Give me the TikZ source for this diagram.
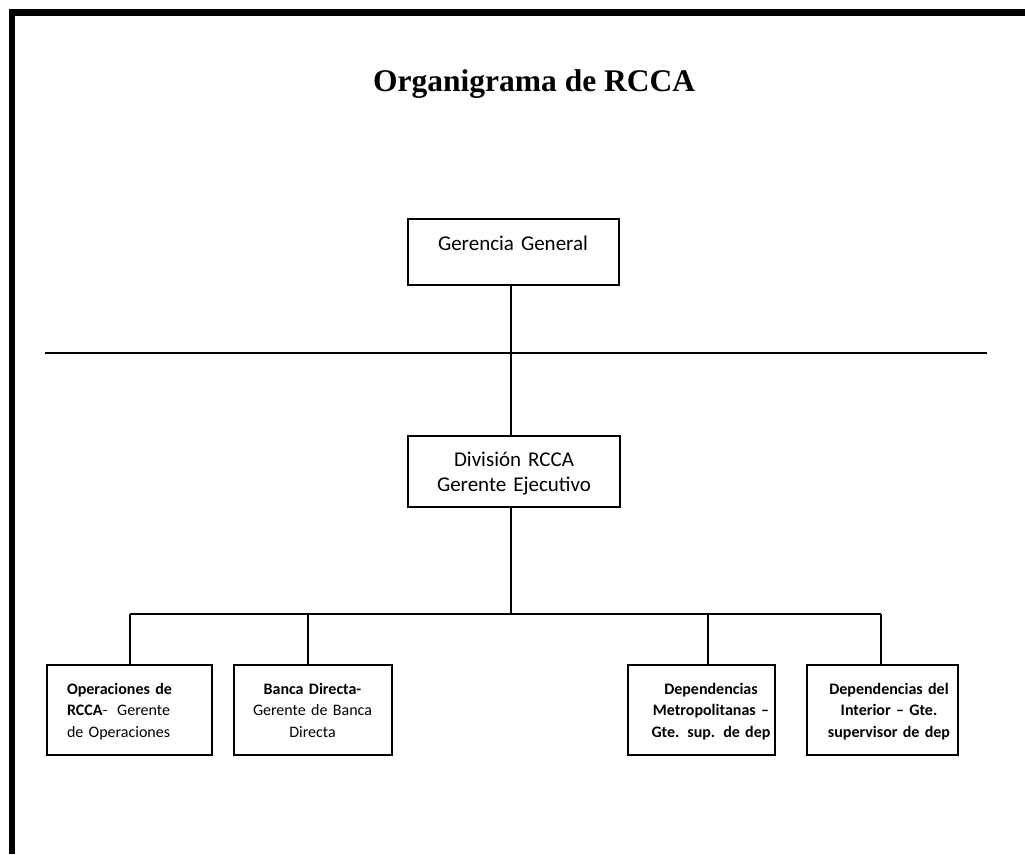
\documentclass[tikz,border=0pt]{standalone}
\usepackage{fontspec}
\setmainfont{Carlito}
\newfontfamily\titlefont{Liberation Serif}
\begin{document}
\begin{tikzpicture}[x=1pt,y=-1pt,
  frame/.style={line width=6.5pt, line join=miter},
  box/.style={draw, line width=2pt, inner sep=0pt},
  link/.style={line width=1.8pt},
  bigtext/.style={font=\fontsize{21}{25}\selectfont, text width=200pt, align=center, inner sep=0pt, anchor=base},
  smalltext/.style={font=\fontsize{16}{21.5}\selectfont, text width=140pt, align=center, inner sep=0pt, anchor=base},
  boldtext/.style={smalltext, font=\fontsize{16}{21.5}\selectfont\bfseries}
]
\useasboundingbox (0,0) rectangle (1025,854);

% page frame (left and top edges)
\coordinate (fb) at (12,854);
\coordinate (fc) at (12,12.5);
\coordinate (fr) at (1025,12.5);
\draw[frame] (fb) -- (fc) -- (fr);

% title
\node[font=\titlefont\bfseries\fontsize{31.5}{36}\selectfont, anchor=base west, inner sep=0pt]
  (title) at (373,91.7) {Organigrama de RCCA};

% boxes
\node[box, minimum width=211pt, minimum height=66pt] (gg)  at (513.5,252) {};
\node[box, minimum width=212pt, minimum height=71pt] (div) at (514,471.5) {};
\node[box, minimum width=165pt, minimum height=90pt] (b1)  at (129.5,710) {};
\node[box, minimum width=158pt, minimum height=90pt] (b2)  at (313,710) {};
\node[box, minimum width=147pt, minimum height=90pt] (b3)  at (701.5,710) {};
\node[box, minimum width=151pt, minimum height=90pt] (b4)  at (882.5,710) {};

% box texts
\node[bigtext] (ggt)  at (513,250.7) {Gerencia General};
\node[bigtext] (divt) at (514,466.7) {División RCCA\\Gerente Ejecutivo};
\node[smalltext, text width=103pt, align=left] (b1t) at (118.5,694)
  {\mbox{\textbf{Operaciones de}}\\\textbf{RCCA}-\hfill Gerente\\\mbox{de Operaciones}};
\node[smalltext] (b2t) at (312.5,694) {\textbf{Banca Directa-}\\Gerente de Banca\\Directa};
\node[boldtext] (b3t) at (711,694) {Dependencias\\Metropolitanas –\\Gte. sup. de dep};
\node[boldtext] (b4t) at (889,694) {Dependencias del\\Interior – Gte.\\supervisor de dep};

% connectors
\coordinate (hl) at (45,353);
\coordinate (hr) at (987,353);
\coordinate (spine) at (511,353);
\coordinate (dm) at (511,614);
\coordinate (d1) at (130,614);
\coordinate (d2) at (308,614);
\coordinate (d3) at (708,614);
\coordinate (d4) at (881,614);

\draw[link] (hl) -- (hr);
\draw[link] (gg.south -| spine) -- (div.north -| spine);
\draw[link] (div.south -| spine) -- (dm);
\draw[link] (d1) -- (d4);
\foreach \i in {1,...,4} \draw[link] (d\i) -- (d\i |- b\i.north);
\end{tikzpicture}
\end{document}
